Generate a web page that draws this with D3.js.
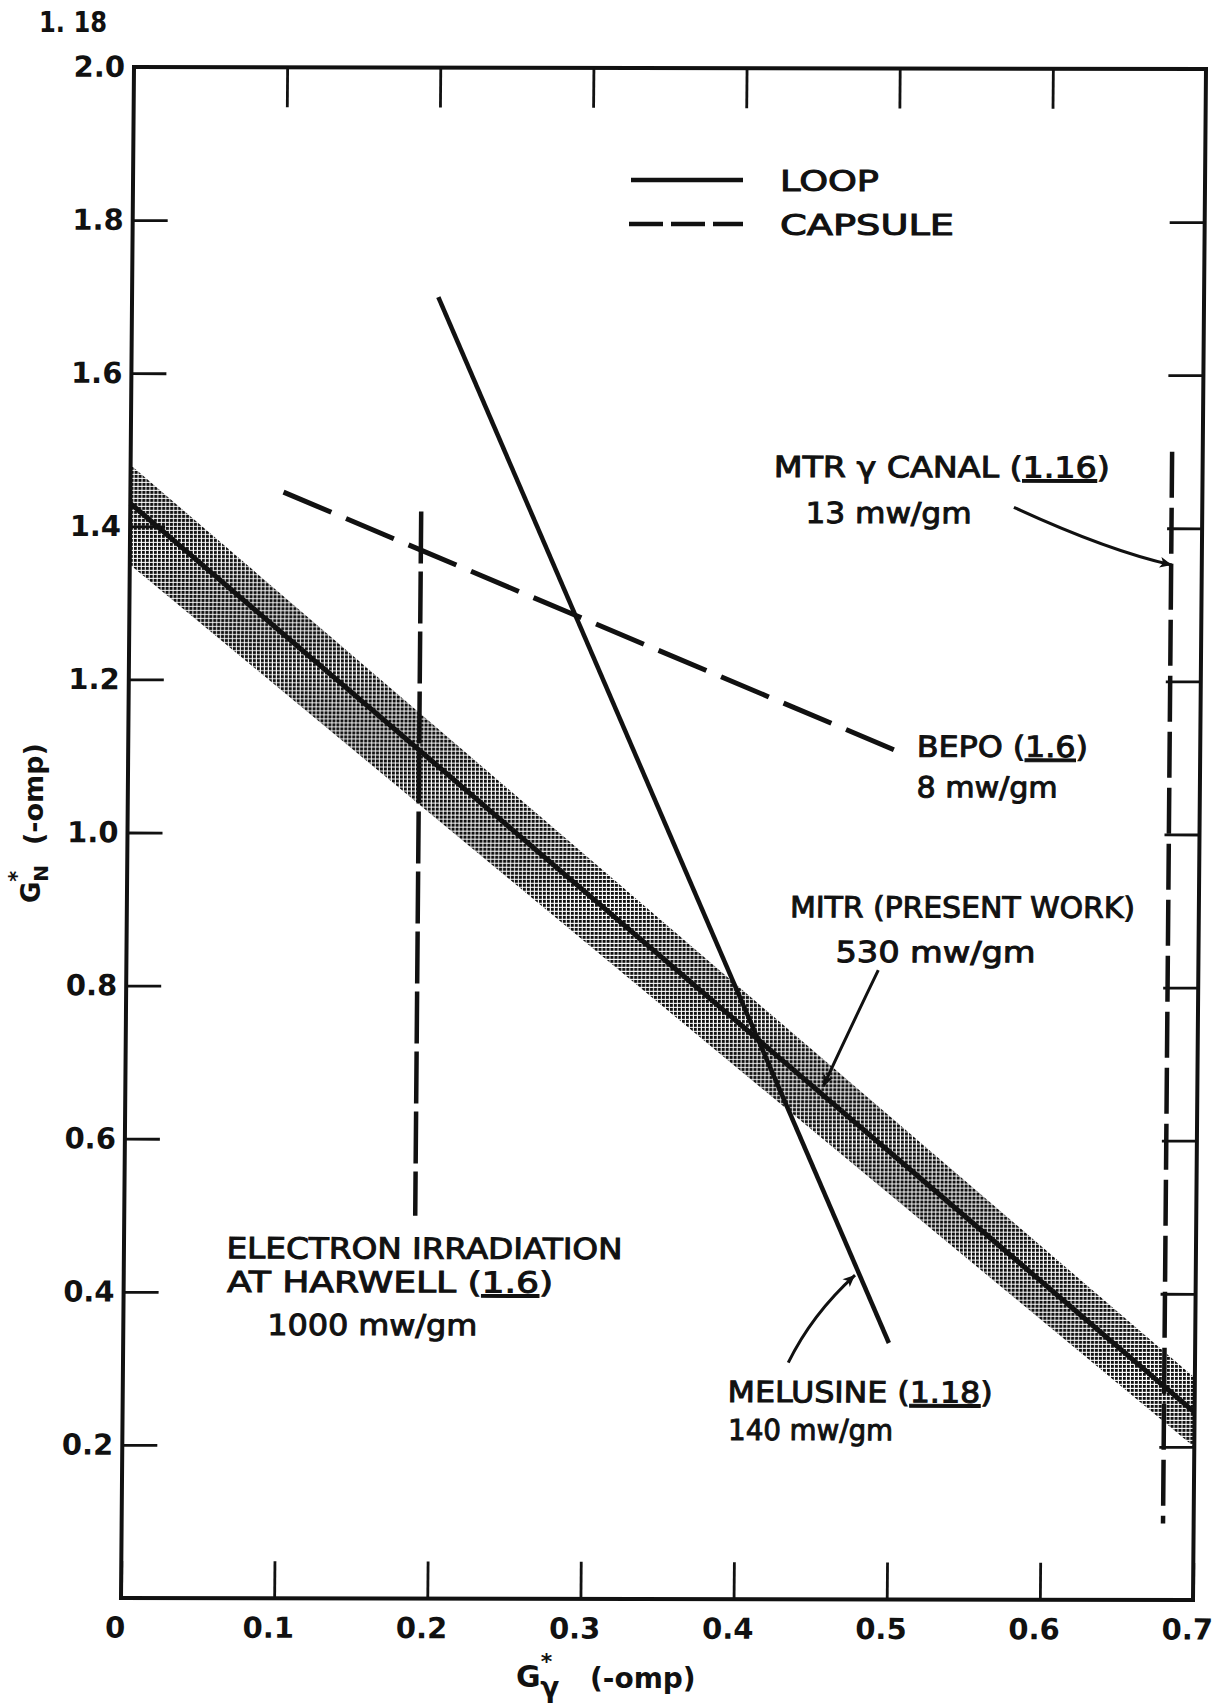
<!DOCTYPE html>
<html>
<head>
<meta charset="utf-8">
<script src="https://cdn.jsdelivr.net/npm/d3@7"></script>
<style>
  body { margin: 0; background: #fff; }
  svg { display: block; }
  text { font-family: "DejaVu Sans", sans-serif; fill: #111; }
</style>
</head>
<body>
<svg id="chart" width="1220" height="1706"></svg>
<script>
// ---- values ----
const xTicks = [0, 0.1, 0.2, 0.3, 0.4, 0.5, 0.6, 0.7];
const xTickLabels = ["0", "0.1", "0.2", "0.3", "0.4", "0.5", "0.6", "0.7"];
const yTicks = [0.2, 0.4, 0.6, 0.8, 1.0, 1.2, 1.4, 1.6, 1.8, 2.0];

// MITR (present work) loop line and its shaded uncertainty band
const mitrX = [0, 0.7];
const mitrY = [1.43, 0.245];
const mitrUpper = [1.48, 0.29];
const mitrLower = [1.35, 0.20];

// MELUSINE loop line
const melusineX = [0.2, 0.5];
const melusineY = [1.70, 0.335];

// capsule results (dashed)
const bepoX = [0.1, 0.5];
const bepoY = [1.445, 1.11];
const harwellX = [0.19, 0.19];
const harwellY = [1.42, 0.50];
const mtrX = [0.68, 0.68];
const mtrY = [1.50, 0.10];

// annotations (data units)
const noteText = ["MTR γ CANAL", "13 mw/gm", "BEPO", "8 mw/gm", "MITR (PRESENT WORK)", "530 mw/gm",
  "ELECTRON IRRADIATION", "AT HARWELL", "1000 mw/gm", "MELUSINE", "140 mw/gm"];
const noteRef = ["1.16", null, "1.6", null, null, null, null, "1.6", null, "1.18", null];
const noteX = [0.420, 0.441, 0.515, 0.515, 0.433, 0.463, 0.067, 0.0675, 0.094, 0.395, 0.3955];
const noteY = [1.466, 1.406, 1.101, 1.048, 0.891, 0.8325, 0.444, 0.400, 0.344, 0.2575, 0.208];
const noteWidth = [336, 166, 171, 141, 345, 200, 396, 326, 210, 265, 165];

// arrows: start, bend, tip
const arrows = [
  [[0.577, 1.427], [0.638, 1.371], [0.6805, 1.352]], // MTR gamma canal
  [[0.491, 0.822], [0.473, 0.746], [0.4557, 0.670]], // MITR
  [[0.4344, 0.309], [0.4494, 0.372], [0.4775, 0.4237]] // MELUSINE
];

// ---- setup ----
const svg = d3.select("#chart");
const W = 1072, H = 1531;
const x = d3.scaleLinear().domain([0, 0.7]).range([0, W]);
const y = d3.scaleLinear().domain([0, 2]).range([H, 0]);

const defs = svg.append("defs");
defs.append("pattern")
  .attr("id", "halftone")
  .attr("patternUnits", "userSpaceOnUse")
  .attr("width", 4).attr("height", 4)
  .append("rect").attr("width", 3).attr("height", 3).attr("fill", "#111");

defs.append("marker")
  .attr("id", "arrow")
  .attr("viewBox", "0 0 10 10")
  .attr("refX", 10).attr("refY", 5)
  .attr("markerWidth", 24).attr("markerHeight", 12)
  .attr("markerUnits", "userSpaceOnUse")
  .attr("orient", "auto")
  .append("path").attr("d", "M0,0.5L10,5L0,9.5L2.5,5Z").attr("fill", "#111");

// the scanned sheet is slightly skewed
const plot = svg.append("g").attr("transform", "matrix(1,0.001866,-0.008491,1,134,67)");

// shaded band
const band = mitrX.map((v, i) => ({ x: v, hi: mitrUpper[i], lo: mitrLower[i] }));
plot.append("path")
  .datum(band)
  .attr("fill", "url(#halftone)")
  .attr("d", d3.area().x(d => x(d.x)).y0(d => y(d.lo)).y1(d => y(d.hi)));

const line = d3.line().x(d => x(d[0])).y(d => y(d[1]));
const zip = (a, b) => a.map((v, i) => [v, b[i]]);

function drawLine(xs, ys, dash, width) {
  plot.append("path")
    .datum(zip(xs, ys))
    .attr("fill", "none")
    .attr("stroke", "#111")
    .attr("stroke-width", width)
    .attr("stroke-dasharray", dash)
    .attr("d", line);
}

drawLine(mitrX, mitrY, null, 5);
drawLine(melusineX, melusineY, null, 4.5);
drawLine(bepoX, bepoY, "52,16", 5);
drawLine(harwellX, harwellY, "52,8", 4.5);
drawLine(mtrX, mtrY, "46,10", 4.5);

// axes: inward ticks on all four sides
function styleAxis(g) {
  g.select(".domain").remove();
  g.selectAll(".tick line").attr("stroke", "#111").attr("stroke-width", 2.8);
  g.selectAll(".tick text")
    .attr("fill", "#111")
    .attr("font-family", "'DejaVu Sans', sans-serif")
    .attr("font-size", 29)
    .attr("font-weight", "bold");
}

plot.append("g")
  .attr("transform", `translate(0,${H})`)
  .call(d3.axisBottom(x).tickValues(xTicks).tickSize(-37).tickPadding(19)
    .tickFormat((d, i) => xTickLabels[i]))
  .call(styleAxis)
  .selectAll(".tick text").attr("dx", -6);

plot.append("g")
  .call(d3.axisLeft(y).tickValues(yTicks).tickSize(-35).tickPadding(9)
    .tickFormat(d3.format(".1f")))
  .call(styleAxis);

plot.append("g")
  .call(d3.axisTop(x).tickValues(xTicks.slice(1, -1)).tickSize(-40).tickFormat(""))
  .call(styleAxis);

plot.append("g")
  .attr("transform", `translate(${W},0)`)
  .call(d3.axisRight(y).tickValues(yTicks.slice(0, -1)).tickSize(-35).tickFormat(""))
  .call(styleAxis);

plot.append("rect")
  .attr("width", W).attr("height", H)
  .attr("fill", "none").attr("stroke", "#111").attr("stroke-width", 4);

// arrows
arrows.forEach(a => {
  const p = d3.path();
  p.moveTo(x(a[0][0]), y(a[0][1]));
  p.quadraticCurveTo(x(a[1][0]), y(a[1][1]), x(a[2][0]), y(a[2][1]));
  plot.append("path")
    .attr("d", p.toString())
    .attr("fill", "none")
    .attr("stroke", "#111")
    .attr("stroke-width", 3)
    .attr("marker-end", "url(#arrow)");
});

// annotation text
noteText.forEach((t, i) => {
  const txt = plot.append("text")
    .attr("x", x(noteX[i]))
    .attr("y", y(noteY[i]))
    .attr("font-size", 29)
    .attr("stroke", "#111").attr("stroke-width", 1)
    .attr("textLength", noteWidth[i])
    .attr("lengthAdjust", "spacingAndGlyphs");
  txt.append("tspan").text(noteRef[i] ? t + " (" : t);
  if (noteRef[i]) {
    txt.append("tspan").style("text-decoration", "underline").text(noteRef[i]);
    txt.append("tspan").text(")");
  }
});

// legend
const legend = svg.append("g");
legend.append("line").attr("x1", 631).attr("x2", 743).attr("y1", 180).attr("y2", 180)
  .attr("stroke", "#111").attr("stroke-width", 4.5);
legend.append("line").attr("x1", 629).attr("x2", 743).attr("y1", 224).attr("y2", 224)
  .attr("stroke", "#111").attr("stroke-width", 4.5).attr("stroke-dasharray", "34,8");
legend.append("text").attr("x", 780).attr("y", 191).attr("font-size", 28)
  .attr("stroke", "#111").attr("stroke-width", 1)
  .attr("textLength", 99).attr("lengthAdjust", "spacingAndGlyphs").text("LOOP");
legend.append("text").attr("x", 780).attr("y", 235).attr("font-size", 28)
  .attr("stroke", "#111").attr("stroke-width", 1)
  .attr("textLength", 174).attr("lengthAdjust", "spacingAndGlyphs").text("CAPSULE");

// page number
svg.append("text").attr("x", 39).attr("y", 32)
  .attr("font-family", "'Liberation Serif', serif").attr("font-size", 29).attr("font-weight", "bold")
  .attr("textLength", 68).attr("lengthAdjust", "spacingAndGlyphs").text("1. 18");

// x axis title: G*γ (-omp)
const xt = svg.append("text").attr("x", 516).attr("y", 1687)
  .attr("font-weight", "bold").attr("font-size", 30);
xt.append("tspan").text("G");
xt.append("tspan").attr("dx", 0).attr("dy", -18).attr("font-size", 22).text("*");
xt.append("tspan").attr("dx", -12).attr("dy", 28).attr("font-size", 28).text("γ");
xt.append("tspan").attr("x", 590).attr("y", 1688).attr("font-size", 28).text("(-omp)");

// y axis title: G*N (-omp), rotated
const yt = svg.append("text").attr("font-weight", "bold").attr("font-size", 26)
  .attr("transform", "translate(40,903) rotate(-90)");
yt.append("tspan").text("G");
yt.append("tspan").attr("dx", 0).attr("dy", -16).attr("font-size", 21).text("*");
yt.append("tspan").attr("dx", -11).attr("dy", 24).attr("font-size", 20).text("N");
yt.append("tspan").attr("x", 58).attr("y", 3).attr("font-size", 27).text("(-omp)");
</script>
</body>
</html>
